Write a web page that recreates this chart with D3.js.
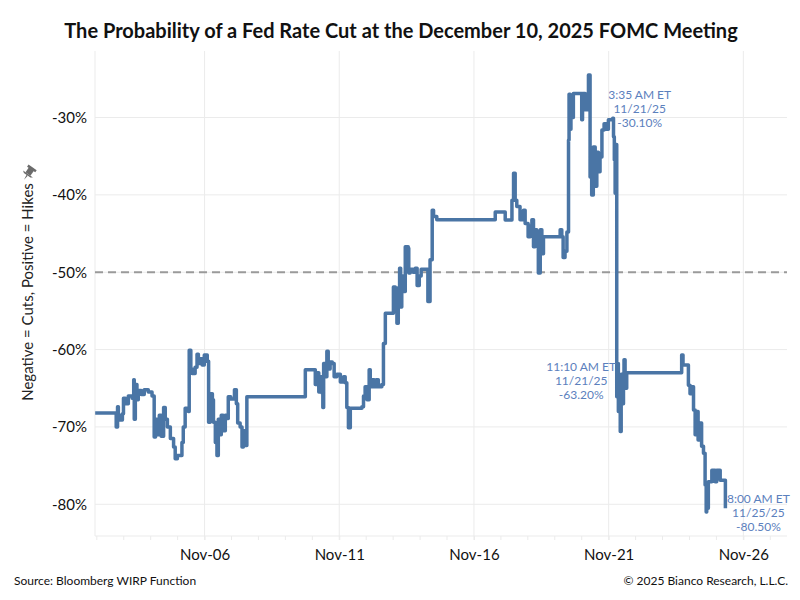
<!DOCTYPE html>
<html>
<head>
<meta charset="utf-8">
<script src="https://cdn.jsdelivr.net/npm/d3@7"></script>
<style>
  html, body { margin: 0; padding: 0; background: #fff; }
  svg { display: block; font-family: Lato, "Open Sans", sans-serif; }
</style>
</head>
<body>
<svg id="chart" width="800" height="600"></svg>
<script>
// ---- DATA (day of November 2025, fractional; probability in %) ----
const days = [
  1.94, 2.72, 2.77, 2.80, 2.87, 2.95, 2.99, 3.06, 3.17, 3.31, 3.37, 3.39, 3.43, 3.49, 3.54, 3.65, 3.76, 3.91,
  4.05, 4.13, 4.18, 4.24, 4.32, 4.39, 4.48, 4.54, 4.62, 4.73, 4.85, 4.91, 4.99, 5.10, 5.16, 5.21, 5.28, 5.40,
  5.43, 5.49, 5.54, 5.65, 5.72, 5.77, 5.84, 5.91, 5.99, 6.10, 6.15, 6.21, 6.29, 6.33, 6.40, 6.46, 6.51, 6.56,
  6.62, 6.69, 6.77, 6.84, 6.88, 6.97, 7.11, 7.18, 7.23, 7.32, 7.39, 7.44, 7.49, 7.57,
  9.74, 10.11, 10.18, 10.24, 10.29, 10.36, 10.39, 10.42, 10.48, 10.54, 10.59, 10.66, 10.74, 10.81, 10.91,
  11.04, 11.16, 11.22, 11.28, 11.34, 11.41, 11.84, 11.90, 11.96, 12.03, 12.11, 12.15, 12.22, 12.30, 12.37,
  12.45, 12.58, 12.64, 12.71, 13.01, 13.08, 13.14, 13.19, 13.24, 13.28, 13.32, 13.37, 13.45, 13.56, 13.58,
  13.63, 13.74, 13.82, 13.89, 13.97, 14.04, 14.29, 14.37, 14.45, 14.50, 14.62,
  16.79, 17.16, 17.41, 17.47, 17.53, 17.59, 17.71, 17.84, 17.90, 18.01, 18.09, 18.15, 18.21, 18.27, 18.33,
  18.39, 18.46, 18.52, 18.58, 19.20, 19.26, 19.31, 19.38, 19.45, 19.51, 19.53, 19.57, 19.60, 19.64, 19.69,
  20.00, 20.03, 20.13, 20.25, 20.31, 20.37, 20.43, 20.50, 20.56, 20.62, 20.68, 20.75, 20.83, 20.90, 20.99,
  21.15, 21.18, 21.21, 21.24, 21.28, 21.30, 21.33, 21.36, 21.38, 21.43, 21.465, 21.50, 21.55, 21.57, 21.61,
  21.67, 23.71, 23.76, 23.96, 24.02, 24.09, 24.15, 24.21, 24.26, 24.32, 24.39, 24.45, 24.52, 24.58, 24.62,
  24.64, 24.70, 24.83, 24.95, 25.01, 25.14, 25.333
];
const probs = [
  -68.2, -70.0, -67.4, -68.5, -69.1, -68.3, -66.3, -67.0, -66.0, -66.3, -63.9, -69.0, -64.5, -66.5, -65.3, -65.8, -65.2, -65.5,
  -66.0, -71.3, -69.0, -71.0, -68.5, -71.2, -67.5, -69.0, -70.0, -71.5, -72.6, -74.1, -73.7, -73.7, -72.0, -70.0, -67.6, -68.0,
  -60.1, -62.5, -63.1, -62.3, -60.6, -61.8, -61.2, -62.0, -60.7, -61.5, -69.4, -65.7, -66.5, -69.4, -72.0, -73.7, -69.0, -71.0,
  -68.5, -70.5, -68.5, -68.9, -66.1, -66.4, -65.2, -67.0, -69.5, -70.0, -72.6, -70.5, -72.4, -66.1,
  -62.6, -64.5, -63.0, -65.5, -63.5, -65.6, -67.5, -61.8, -63.5, -60.2, -62.5, -61.6, -61.8, -63.5, -63.2,
  -64.2, -63.5, -64.3, -67.5, -70.1, -67.6, -67.4, -66.0, -64.8, -66.5, -62.6, -64.8, -63.9, -64.8, -63.9,
  -64.8, -64.5, -59.2, -55.3, -51.9, -53.2, -56.6, -52.0, -49.5, -54.5, -50.5, -52.5, -46.7, -46.9, -50.1,
  -49.6, -50.0, -49.5, -51.7, -50.5, -49.6, -53.8, -48.4, -42.0, -42.8, -43.2,
  -42.2, -43.25, -40.7, -37.2, -40.7, -41.5, -43.2, -42.0, -43.7, -45.4, -44.0, -43.2, -46.7, -44.5, -46.0,
  -50.1, -44.5, -47.6, -45.4, -44.5, -45.4, -48.1, -47.3, -44.8, -32.9, -27.0, -31.5, -27.5, -30.0, -26.9,
  -30.3, -26.9, -29.0, -24.5, -37.7, -40.0, -33.8, -38.9, -34.5, -37.0, -35.1, -31.6, -30.8, -31.5, -30.3,
  -30.1, -32.5, -35.5, -39.8, -33.5, -66.1, -61.8, -68.0, -63.5, -70.6, -63.2, -67.0, -63.5, -61.3, -65.0,
  -63.0, -60.7, -62.0, -64.6, -65.7, -64.8, -67.8, -71.0, -68.0, -71.7, -69.5, -72.5, -73.4, -77.5, -81.0,
  -80.5, -77.1, -75.6, -77.1, -75.6, -76.9, -80.5
];
const yTicks = [-80, -70, -60, -50, -40, -30];
const xTickDays = [6, 11, 16, 21, 26];
const xTickLabels = ["Nov-06", "Nov-11", "Nov-16", "Nov-21", "Nov-26"];
const minorTickDays = d3.range(2, 28);
const refLevel = -50;
const annoDays = [21.15, 21.465, 25.333];
const annoValues = [-30.1, -63.2, -80.5];
const annoLines = [
  ["3:35 AM ET", "11/21/25", "-30.10%"],
  ["11:10 AM ET", "11/21/25", "-63.20%"],
  ["8:00 AM ET", "11/25/25", "-80.50%"]
];
const title = "The Probability of a Fed Rate Cut at the December 10, 2025 FOMC Meeting";
const yLabel = "Negative = Cuts, Positive = Hikes";
const sourceText = "Source: Bloomberg WIRP Function";
const copyText = "\u00A9 2025 Bianco Research, L.L.C.";

// ---- CHART ----
const svg = d3.select("#chart");
const plot = { left: 95, right: 787, top: 51, bottom: 536 };
const dayToDate = d => new Date(2025, 10, 1 + Math.floor(d - 1), 0, 0, 0, 0).getTime() + ((d - 1) - Math.floor(d - 1)) * 86400000;
const toDate = d => new Date(dayToDate(d));

const x = d3.scaleTime()
  .domain([toDate(1.933), toDate(27.62)])
  .range([plot.left, plot.right]);
const y = d3.scaleLinear()
  .domain([-84.1, -21.4])
  .range([plot.bottom, plot.top]);

const gridColor = "#ebebeb";

// horizontal gridlines
svg.append("g").selectAll("line").data(yTicks).join("line")
  .attr("x1", plot.left).attr("x2", plot.right)
  .attr("y1", d => y(d)).attr("y2", d => y(d))
  .attr("stroke", gridColor).attr("stroke-width", 1);

// vertical gridlines
svg.append("g").selectAll("line").data(xTickDays).join("line")
  .attr("x1", d => x(toDate(d))).attr("x2", d => x(toDate(d)))
  .attr("y1", plot.top).attr("y2", plot.bottom)
  .attr("stroke", gridColor).attr("stroke-width", 1);

// left frame line
svg.append("line")
  .attr("x1", plot.left).attr("x2", plot.left)
  .attr("y1", plot.top).attr("y2", plot.bottom)
  .attr("stroke", gridColor).attr("stroke-width", 1);

// bottom axis
const xAxis = d3.axisBottom(x)
  .tickValues(xTickDays.map(toDate))
  .tickFormat((d, i) => xTickLabels[i])
  .tickSize(4).tickPadding(6);
const gx = svg.append("g").attr("transform", `translate(0,${plot.bottom})`).call(xAxis);
gx.select(".domain").attr("stroke", gridColor).attr("d", `M${plot.left},0H${plot.right}`);
gx.selectAll(".tick line").attr("stroke", gridColor);
gx.selectAll(".tick text").attr("font-size", 15).attr("fill", "#111")
  .attr("font-family", "Lato, sans-serif").attr("dy", "0.95em");

// minor ticks
svg.append("g").selectAll("line").data(minorTickDays).join("line")
  .attr("x1", d => x(toDate(d))).attr("x2", d => x(toDate(d)))
  .attr("y1", plot.bottom).attr("y2", plot.bottom + 4)
  .attr("stroke", gridColor);

// left axis labels
const yAxis = d3.axisLeft(y).tickValues(yTicks).tickFormat(d => d + "%").tickSize(0).tickPadding(8);
const gy = svg.append("g").attr("transform", `translate(${plot.left},0)`).call(yAxis);
gy.select(".domain").remove();
gy.selectAll(".tick text").attr("font-size", 15).attr("fill", "#111").attr("font-family", "Lato, sans-serif");

// reference dashed line
svg.append("line")
  .attr("x1", plot.left).attr("x2", plot.right)
  .attr("y1", y(refLevel)).attr("y2", y(refLevel))
  .attr("stroke", "#9a9a9a").attr("stroke-width", 2).attr("stroke-dasharray", "8,5");

// series line
const series = days.map((d, i) => ({ t: toDate(d), v: probs[i] }));
const line = d3.line().x(d => x(d.t)).y(d => y(d.v)).curve(d3.curveStepAfter);
svg.append("path").datum(series)
  .attr("d", line)
  .attr("fill", "none")
  .attr("stroke", "#4a75a5")
  .attr("stroke-width", 3.5)
  .attr("stroke-linejoin", "round");

// annotations
const annoOffsets = [[27, -19], [-40, -3], [33, -5]];
annoLines.forEach((lines, i) => {
  const ax = x(toDate(annoDays[i])) + annoOffsets[i][0];
  const ay = y(annoValues[i]) + annoOffsets[i][1];
  const t = svg.append("text")
    .attr("text-anchor", "middle")
    .attr("font-size", 12)
    .attr("fill", "#5b80bd")
    .attr("font-family", "Lato, sans-serif");
  lines.forEach((s, j) => {
    t.append("tspan").attr("x", ax).attr("y", ay + j * 13.8).text(s);
  });
});

// title
svg.append("text")
  .attr("x", 401).attr("y", 38)
  .attr("text-anchor", "middle")
  .attr("font-size", 20).attr("font-weight", 700)
  .attr("fill", "#111")
  .text(title);

// y label
svg.append("text")
  .attr("transform", "translate(33,292) rotate(-90)")
  .attr("text-anchor", "middle")
  .attr("font-size", 15).attr("fill", "#222")
  .text(yLabel);

// pin icon
const pin = svg.append("g").attr("transform", "translate(28,174) rotate(35)").attr("fill", "#6b6b6b");
pin.append("rect").attr("x", -3).attr("y", -6).attr("width", 6).attr("height", 6);
pin.append("rect").attr("x", -5).attr("y", -8).attr("width", 10).attr("height", 2.5);
pin.append("path").attr("d", "M-6,0 L6,0 L4,1.5 L-4,1.5 Z");
pin.append("path").attr("d", "M-0.7,1.5 L0.7,1.5 L0,7 Z");

// footer
svg.append("text")
  .attr("x", 14).attr("y", 585)
  .attr("font-size", 12).attr("fill", "#111")
  .text(sourceText);
svg.append("text")
  .attr("x", 788).attr("y", 585)
  .attr("text-anchor", "end")
  .attr("font-size", 12).attr("fill", "#111")
  .text(copyText);
</script>
</body>
</html>
